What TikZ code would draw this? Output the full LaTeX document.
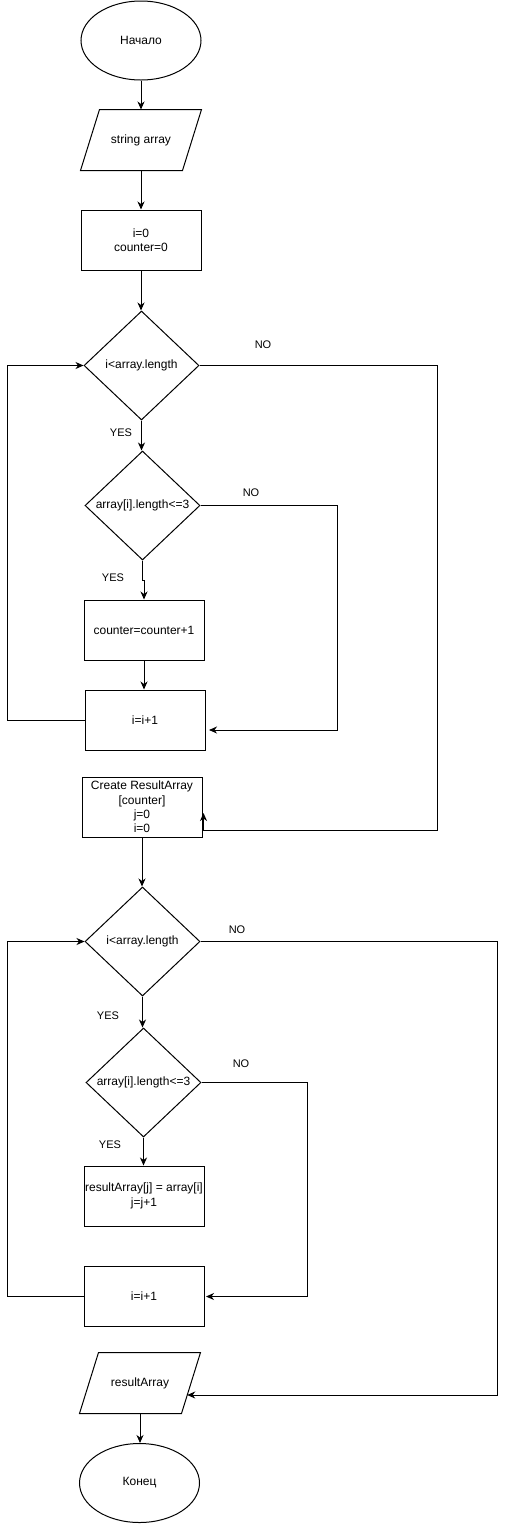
\documentclass[tikz,border=0pt]{standalone}
\usepackage{fontspec}
\setmainfont{Liberation Sans}
\usetikzlibrary{shapes.geometric,arrows.meta}
\begin{document}
\begin{tikzpicture}[x=1pt,y=-1pt,line width=1pt,
  font=\fontsize{12}{14.4}\selectfont,
  term/.style={ellipse,draw,minimum width=120pt,minimum height=79pt,inner sep=0pt},
  proc/.style={rectangle,draw,minimum width=120pt,minimum height=60pt,inner sep=0pt,align=center},
  io/.style={rectangle,minimum width=101pt,minimum height=60pt,inner sep=0pt},
  dec/.style={diamond,draw,minimum width=115pt,minimum height=109pt,inner sep=0pt},
  lbl/.style={font=\fontsize{11}{13}\selectfont,inner sep=0pt},
  arr/.style={-{Stealth[length=8pt,width=7pt,inset=2.5pt]}}]
\useasboundingbox (0,0) rectangle (506,1524);

\node[term] (start) at (141,40.5) {Начало};
\node[io] (in) at (141,140) {string array};
\draw ([xshift=-9.5pt]in.south west) -- ([xshift=9.5pt]in.north west) -- ([xshift=9.5pt]in.north east) -- ([xshift=-9.5pt]in.south east) -- cycle;
\node[proc] (init) at (141,240) {i=0\\counter=0};
\node[dec,label={center:i<array.length}] (d1) at (141.5,365.5) {};
\node[dec,label={center:array[i].length<=3}] (d2) at (142.5,505.5) {};
\node[proc] (cnt) at (144,630) {counter=counter+1};
\node[proc] (inc1) at (145,720) {i=i+1};
\node[proc] (create) at (142,807) {Create ResultArray\\{[counter]}\\j=0\\i=0};
\node[dec,label={center:i<array.length}] (d3) at (142.5,941.5) {};
\node[dec,label={center:array[i].length<=3}] (d4) at (143.5,1082.5) {};
\node[proc] (res) at (144,1196) {resultArray[j] = array[i]\\j=j+1};
\node[proc] (inc2) at (144,1296.5) {i=i+1};
\node[io] (out) at (140,1383) {resultArray};
\draw ([xshift=-9.5pt]out.south west) -- ([xshift=9.5pt]out.north west) -- ([xshift=9.5pt]out.north east) -- ([xshift=-9.5pt]out.south east) -- cycle;
\node[term] (end) at (139.5,1483) {Конец};

\node[lbl] (no1) at (263,345) {NO};
\node[lbl] (yes1) at (121,433) {YES};
\node[lbl] (no2) at (251,493) {NO};
\node[lbl] (yes2) at (113,578) {YES};
\node[lbl] (no3) at (237,930) {NO};
\node[lbl] (yes3) at (108,1016) {YES};
\node[lbl] (no4) at (241,1064) {NO};
\node[lbl] (yes4) at (110,1145) {YES};

\coordinate (L1) at (7,720);
\coordinate (R1) at (437,365.5);
\coordinate (C1) at (203.5,830);
\coordinate (C2) at (203.5,813);
\coordinate (R2) at (337,505.5);
\coordinate (A2) at (209,730);
\coordinate (L3) at (7,1296.5);
\coordinate (R3) at (497,941.5);
\coordinate (R4) at (307,1082.5);
\coordinate (A4) at (206,1296.5);

\draw[arr] (start) -- (in);
\draw[arr] (in.south) -- (in.south |- init.north);
\draw[arr] (init) -- (init.south |- d1.north);
\draw[arr] (d1.south) -- (d1.south |- d2.north);
\draw[arr] (d2.south) -- ++(0,20) -| (cnt.north);
\draw[arr] (cnt.south) -- (cnt.south |- inc1.north);
\draw[arr] (inc1.west) -- (L1) |- (d1.west);
\draw[arr] (d1.east) -- (R1) |- (C1) -- (C2);
\draw[arr] (d2.east) -- (R2) |- (A2);
\draw[arr] (create.south) -- (create.south |- d3.north);
\draw[arr] (d3.south) -- (d3.south |- d4.north);
\draw[arr] (d4.south) -- (d4.south |- res.north);
\draw[arr] (inc2.west) -- (L3) |- (d3.west);
\draw[arr] (d4.east) -- (R4) |- (A4);
\draw[arr] (d3.east) -- (R3) |- ([xshift=-3.8pt,yshift=-12pt]out.east);
\draw[arr] (out.south) -- (out.south |- end.north);
\end{tikzpicture}
\end{document}
